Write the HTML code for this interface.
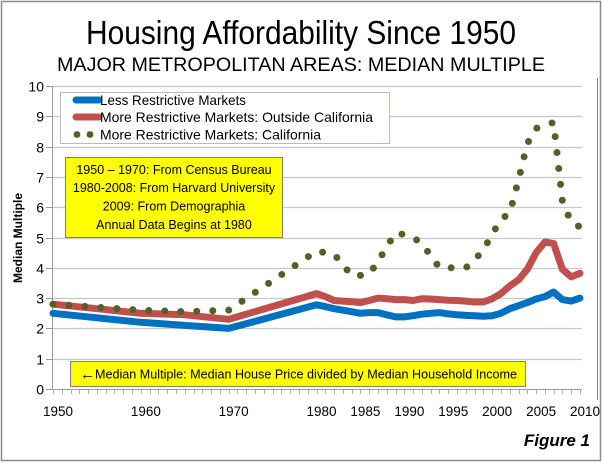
<!DOCTYPE html>
<html><head><meta charset="utf-8"><style>
body{margin:0;background:#fff;}
svg{display:block;font-family:"Liberation Sans",Arial,sans-serif;}
</style></head><body>
<svg id="chart" width="603" height="463" viewBox="0 0 603 463" xmlns="http://www.w3.org/2000/svg">
<rect x="1.5" y="1.5" width="599" height="459" fill="#fff" stroke="#8c8c8c" stroke-width="1.5"/>
<text x="301" y="44" text-anchor="middle" font-size="33" textLength="430" lengthAdjust="spacingAndGlyphs">Housing Affordability Since 1950</text>
<text x="301" y="71" text-anchor="middle" font-size="19" textLength="488" lengthAdjust="spacingAndGlyphs">MAJOR METROPOLITAN AREAS: MEDIAN MULTIPLE</text>
<line x1="597.5" y1="78" x2="597.5" y2="400" stroke="#7f7f7f" stroke-width="1"/>
<g id="grid"></g>
<g id="yaxis"></g>
<g id="xaxis"></g>
<text transform="translate(22,238) rotate(-90)" text-anchor="middle" font-size="12" font-weight="bold">Median Multiple</text>
<g id="series"></g>
<g>
<rect x="60.5" y="92.5" width="329" height="51" fill="#fff" stroke="#b9bfa8" stroke-width="1"/>
<line x1="76" y1="100" x2="99" y2="100" stroke="#0070c0" stroke-width="7" stroke-linecap="round"/>
<text x="100" y="105" font-size="14" textLength="146" lengthAdjust="spacingAndGlyphs">Less Restrictive Markets</text>
<line x1="76" y1="117" x2="99" y2="117" stroke="#c0504d" stroke-width="7" stroke-linecap="round"/>
<text x="100" y="122" font-size="14" textLength="273" lengthAdjust="spacingAndGlyphs">More Restrictive Markets: Outside California</text>
<circle cx="77" cy="134.5" r="3.4" fill="#4f6228"/><circle cx="90" cy="134.5" r="3.4" fill="#4f6228"/>
<text x="100" y="139.5" font-size="14" textLength="221" lengthAdjust="spacingAndGlyphs">More Restrictive Markets: California</text>
</g>
<g>
<rect x="65.5" y="157.5" width="217" height="80" fill="#ffff00" stroke="#7f7f7f" stroke-width="1"/>
<text x="174" y="174" text-anchor="middle" font-size="12.5">1950 – 1970: From Census Bureau</text>
<text x="174" y="192" text-anchor="middle" font-size="12.5">1980-2008: From Harvard University</text>
<text x="174" y="210.5" text-anchor="middle" font-size="12.5">2009: From Demographia</text>
<text x="174" y="229" text-anchor="middle" font-size="12.5">Annual Data Begins at 1980</text>
</g>
<g>
<rect x="70.5" y="361.5" width="455" height="25" fill="#ffff00" stroke="#7f7f7f" stroke-width="1"/>
<text x="80" y="379" font-size="15" font-weight="bold">←</text>
<text x="306" y="378.5" text-anchor="middle" font-size="13" textLength="422" lengthAdjust="spacingAndGlyphs">Median Multiple: Median House Price divided by Median Household Income</text>
</g>
<text x="590" y="446" text-anchor="end" font-size="17" font-weight="bold" font-style="italic">Figure 1</text>
</svg>
<script>
const years = [1950,1955,1960,1965,1970,1980,1981,1982,1983,1984,1985,1986,1987,1988,1989,1990,1991,1992,1993,1994,1995,1996,1997,1998,1999,2000,2001,2002,2003,2004,2005,2006,2007,2008,2009,2010];
const lessRestrictive = [2.5,2.35,2.2,2.1,2.0,2.78,2.72,2.65,2.6,2.55,2.5,2.52,2.52,2.45,2.38,2.38,2.42,2.47,2.5,2.52,2.48,2.45,2.43,2.42,2.4,2.42,2.5,2.65,2.75,2.85,2.97,3.05,3.2,2.95,2.9,3.0];
const outsideCalifornia = [2.8,2.65,2.5,2.45,2.3,3.15,3.05,2.92,2.9,2.88,2.85,2.92,3.0,2.98,2.95,2.95,2.92,2.98,2.97,2.95,2.93,2.92,2.9,2.87,2.87,2.98,3.15,3.4,3.6,3.95,4.5,4.85,4.8,3.95,3.7,3.82];
const california = [2.8,2.7,2.6,2.55,2.6,4.55,4.5,4.45,4.1,3.75,3.75,3.8,4.2,4.7,5.15,5.1,5.0,4.8,4.4,4.0,4.0,4.0,4.0,4.25,4.6,5.1,5.6,5.8,6.9,8.1,8.6,8.7,8.8,6.2,5.5,5.35];
const yTicks = [0,1,2,3,4,5,6,7,8,9,10];
const xLabels = [1950,1960,1970,1980,1985,1990,1995,2000,2005,2010];

const NS = "http://www.w3.org/2000/svg";
const X0 = 53, X1 = 580, Y0 = 389, Y1 = 86;
function xs(yr){ return X0 + (yr-1950)/(2010-1950)*(X1-X0); }
function ys(v){ return Y0 - v/10*(Y0-Y1); }
function mk(tag, attrs, parent){ const e=document.createElementNS(NS,tag); for(const k in attrs) e.setAttribute(k,attrs[k]); parent.appendChild(e); return e; }

const grid = document.getElementById('grid');
const yaxis = document.getElementById('yaxis');
yTicks.forEach(t=>{
  const y = Math.round(ys(t))+0.5;
  if(t>0){
    const l = mk('line',{x1:52,x2:582,y1:y,y2:y,stroke:'#c8c8c8','stroke-width':1.2},grid);
    
    
  }
  mk('line',{x1:46,x2:52,y1:y,y2:y,stroke:'#999','stroke-width':1},yaxis);
  const tx = mk('text',{x:44,y:y+5,'text-anchor':'end','font-size':14},yaxis);
  tx.textContent = t;
  
  
});
mk('line',{x1:52.5,x2:52.5,y1:Y1,y2:Y0+1,stroke:'#999','stroke-width':1},yaxis);

const xaxis = document.getElementById('xaxis');
mk('line',{x1:52,x2:582,y1:Y0+0.5,y2:Y0+0.5,stroke:'#999','stroke-width':1},xaxis);
for(let yr=1950; yr<=2010; yr++){
  const x = Math.round(xs(yr))+0.5;
  mk('line',{x1:x,x2:x,y1:Y0,y2:Y0+5,stroke:'#aaa','stroke-width':1},xaxis);
}
xLabels.forEach(yr=>{
  const tx = mk('text',{x:xs(yr)+5,y:416,'text-anchor':'middle','font-size':14,'textLength':30,'lengthAdjust':'spacingAndGlyphs'},xaxis);
  tx.textContent = yr;
  
  
});

const series = document.getElementById('series');
function pts(vals){ return years.map((yr,i)=>xs(yr).toFixed(1)+','+ys(vals[i]).toFixed(1)).join(' '); }
const blue = mk('polyline',{points:pts(lessRestrictive),fill:'none',stroke:'#0070c0','stroke-width':7,'stroke-linejoin':'round','stroke-linecap':'round'},series);


const red = mk('polyline',{points:pts(outsideCalifornia),fill:'none',stroke:'#c0504d','stroke-width':7,'stroke-linejoin':'round','stroke-linecap':'round'},series);


const ca = mk('polyline',{points:pts(california),fill:'none',stroke:'#4f6228','stroke-width':7,'stroke-linecap':'round','stroke-dasharray':'0 16','stroke-linejoin':'round'},series);


</script>
</body></html>
